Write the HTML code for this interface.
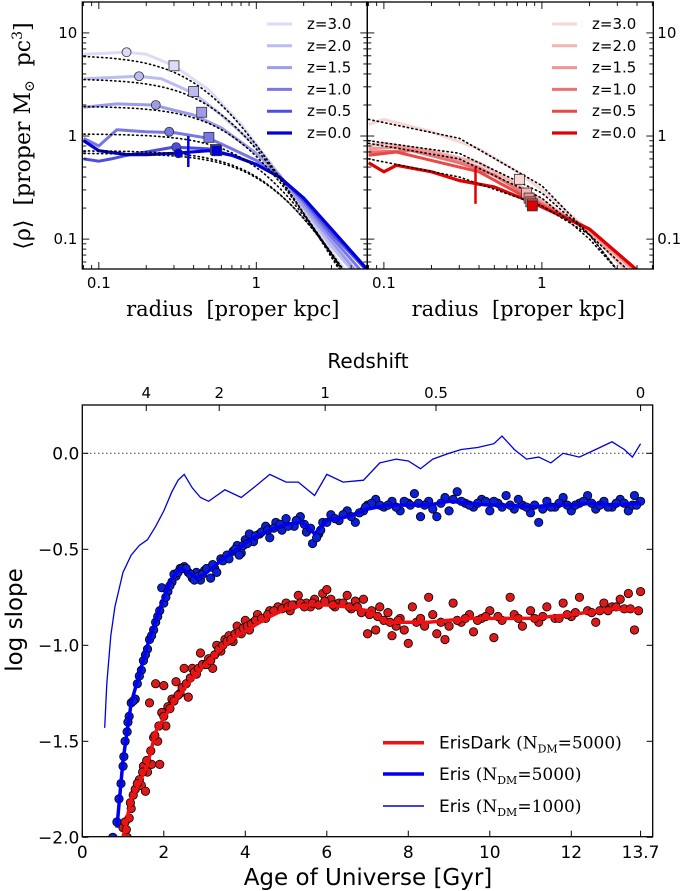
<!DOCTYPE html>
<html><head><meta charset="utf-8">
<style>
html,body{margin:0;padding:0;background:#fff;}
svg{display:block;}
text{font-family:"DejaVu Sans","Liberation Sans",sans-serif;fill:#000;}
.serif{font-family:"DejaVu Serif","Liberation Serif",serif;}
</style></head>
<body>
<svg id="fig" width="683" height="891" viewBox="0 0 683 891" xmlns="http://www.w3.org/2000/svg">
<g id="topPanels"></g>
<g id="botChart"></g>
</svg>
<script>
// ---------- TOP PANELS DATA ----------
const zLabels = ["z=3.0","z=2.0","z=1.5","z=1.0","z=0.5","z=0.0"];
const blueColors = ["#dcdcf7","#bcbcf0","#9c9ce9","#7878e4","#4d4de0","#0000dc"];
const redColors = ["#f8d6d6","#f4b4b4","#f09494","#ec7272","#e84848","#e00000"];
const erisZ3 = [[0.08,6.2],[0.15,6.5],[0.2,6.2],[0.3,4.8],[0.5,2.8],[0.8,1.3],[1.4,0.42],[2,0.19],[3,0.075],[4,0.042]];
const erisZ2 = [[0.08,3.6],[0.18,3.8],[0.25,3.6],[0.4,2.6],[0.6,1.6],[1,0.8],[1.4,0.42],[2,0.2],[3,0.085],[4.3,0.045]];
const erisZ15 = [[0.08,1.9],[0.13,2.05],[0.22,2.0],[0.4,1.6],[0.6,1.2],[1,0.68],[1.4,0.42],[2,0.21],[3,0.095],[4.5,0.045]];
const erisZ1 = [[0.08,0.95],[0.1,0.8],[0.13,1.15],[0.2,1.1],[0.3,1.08],[0.5,0.95],[0.7,0.75],[1,0.58],[1.4,0.41],[2,0.23],[3,0.105],[4.7,0.048]];
const erisZ05 = [[0.08,0.6],[0.1,0.57],[0.12,0.6],[0.15,0.65],[0.3,0.78],[0.5,0.75],[0.7,0.65],[1,0.53],[1.4,0.4],[2,0.24],[3,0.115],[5,0.05]];
const erisZ0 = [[0.08,0.9],[0.1,0.72],[0.15,0.66],[0.2,0.66],[0.3,0.68],[0.5,0.72],[0.7,0.65],[1,0.53],[1.4,0.4],[2,0.25],[3,0.125],[5,0.052]];
const erisFitRho0 = [6.1,3.6,1.95,1.05,0.72,0.68];
const erisFitRc = [0.5,0.63,0.83,1.1,1.3,1.35];
const erisCircles = [[0.15,6.5],[0.18,3.8],[0.23,2.0],[0.28,1.1],[0.31,0.78],[0.32,0.68]];
const erisSquares = [[0.3,4.8],[0.4,2.7],[0.45,1.7],[0.5,0.97],[0.55,0.74],[0.56,0.72]];
const erisBar = [0.37,0.5,1.0];
const darkZ3 = [[0.08,1.3],[0.1,1.45],[0.2,1.1],[0.4,0.75],[0.7,0.45],[1,0.3],[2,0.12],[3,0.06],[3.5,0.045]];
const darkZ2 = [[0.08,0.8],[0.1,0.85],[0.2,0.72],[0.4,0.55],[0.8,0.3],[1,0.24],[2,0.115],[3,0.062],[3.8,0.045]];
const darkZ15 = [[0.08,0.75],[0.12,0.78],[0.2,0.7],[0.4,0.5],[0.85,0.26],[2,0.12],[3.8,0.05]];
const darkZ1 = [[0.08,0.7],[0.15,0.72],[0.3,0.55],[0.5,0.42],[0.85,0.25],[2,0.125],[4,0.05]];
const darkZ05 = [[0.08,0.65],[0.12,0.7],[0.2,0.58],[0.4,0.45],[0.85,0.24],[2,0.125],[4,0.05]];
const darkZ0 = [[0.08,0.55],[0.1,0.45],[0.12,0.52],[0.2,0.45],[0.3,0.37],[0.5,0.32],[0.85,0.23],[2,0.125],[4,0.05]];
const darkFitZ3 = [[0.08,1.45],[0.3,0.95],[1,0.33],[2,0.11],[3,0.05]];
const darkFitZ2 = [[0.08,0.9],[0.3,0.68],[1,0.28],[2,0.11],[3,0.05]];
const darkFitZ1 = [[0.08,0.85],[0.3,0.6],[1,0.25],[2,0.1],[3,0.05]];
const darkFitZ0 = [[0.08,0.6],[0.3,0.4],[1,0.21],[2,0.11],[3.5,0.05]];
const darkSquares = [[0.72,0.38],[0.8,0.28],[0.83,0.25],[0.85,0.23],[0.87,0.22],[0.87,0.21]];
const darkBar = [0.38,0.22,0.5];
const yTickVals = [10,1,0.1];
const yTickLabels = ["10","1","0.1"];
const xTickVals = [0.1,1];
const xTickLabels = ["0.1","1"];

// ---------- BOTTOM CHART DATA ----------
const zTickLabels = ["4","2","1","0.5","0"];
const zTickAges = [1.57,3.36,5.96,8.68,13.7];
const ageTicks = [0,2,4,6,8,10,12,13.7];
const ageTickLabels = ["0","2","4","6","8","10","12","13.7"];
const slopeTicks = [0,-0.5,-1,-1.5,-2];
const slopeTickLabels = ["0.0","\u22120.5","\u22121.0","\u22121.5","\u22122.0"];
const eris1000 = [[0.55,-1.43],[0.6,-1.2],[0.7,-0.95],[0.8,-0.8],[1.0,-0.62],[1.2,-0.53],[1.4,-0.48],[1.6,-0.45],[1.8,-0.38],[2.0,-0.3],[2.2,-0.2],[2.35,-0.14],[2.5,-0.11],[2.7,-0.18],[2.9,-0.23],[3.1,-0.25],[3.3,-0.22],[3.5,-0.19],[3.9,-0.23],[4.2,-0.18],[4.6,-0.11],[5.0,-0.15],[5.3,-0.15],[5.7,-0.22],[6.0,-0.11],[6.4,-0.15],[6.9,-0.14],[7.3,-0.05],[7.7,-0.03],[8.0,-0.04],[8.3,-0.08],[8.6,-0.03],[9.0,0.0],[9.3,0.02],[9.7,0.03],[10.1,0.05],[10.3,0.09],[10.6,0.02],[10.9,-0.03],[11.2,-0.02],[11.5,-0.05],[11.8,0.0],[12.2,-0.02],[12.6,0.02],[13.0,0.06],[13.3,0.02],[13.5,-0.02],[13.7,0.05]];
const eris5000Line = [[0.85,-1.95],[1.0,-1.6],[1.2,-1.3],[1.4,-1.15],[1.6,-1.0],[1.8,-0.87],[2.0,-0.75],[2.2,-0.65],[2.4,-0.6],[2.6,-0.62],[2.8,-0.65],[3.0,-0.63],[3.4,-0.56],[3.8,-0.5],[4.2,-0.44],[4.6,-0.4],[5.0,-0.37],[5.4,-0.36],[5.7,-0.42],[6.0,-0.35],[6.5,-0.33],[7.0,-0.29],[7.5,-0.27],[8.0,-0.27],[8.5,-0.27],[9.0,-0.25],[9.5,-0.26],[10,-0.27],[10.5,-0.27],[11,-0.28],[11.5,-0.27],[12,-0.27],[12.5,-0.26],[13,-0.27],[13.7,-0.26]];
const darkLine = [[1.0,-2.0],[1.2,-1.8],[1.4,-1.72],[1.6,-1.62],[1.8,-1.45],[2.0,-1.38],[2.3,-1.28],[2.6,-1.2],[3.0,-1.1],[3.4,-1.02],[3.8,-0.95],[4.2,-0.9],[4.6,-0.85],[5.0,-0.81],[5.5,-0.79],[6.0,-0.79],[6.5,-0.8],[7.0,-0.82],[7.5,-0.88],[8.0,-0.88],[8.5,-0.88],[9.0,-0.87],[9.5,-0.86],[10,-0.86],[11,-0.86],[12,-0.84],[13,-0.81],[13.7,-0.82]];
const eris5000Pts = [[0.75,-2.0],[0.85,-1.92],[0.9,-1.8],[0.95,-1.72],[1.0,-1.63],[1.05,-1.5],[1.1,-1.45],[1.15,-1.37],[1.2,-1.3],[1.3,-1.28],[1.35,-1.2],[1.45,-1.13],[1.5,-1.08],[1.6,-1.02],[1.65,-0.97],[1.75,-0.92],[1.8,-0.88],[1.9,-0.82],[1.95,-0.7],[2.0,-0.78],[2.1,-0.72],[2.2,-0.67],[2.3,-0.64],[2.4,-0.6],[2.5,-0.59],[2.6,-0.62],[2.7,-0.65],[2.8,-0.62],[2.9,-0.66],[3.0,-0.61],[3.15,-0.65],[3.25,-0.6],[3.4,-0.55],[3.55,-0.53],[3.7,-0.51],[3.8,-0.48],[3.9,-0.52],[4.0,-0.45],[4.1,-0.42],[4.2,-0.46],[4.35,-0.42],[4.5,-0.38],[4.6,-0.44],[4.75,-0.36],[4.9,-0.4],[5.0,-0.34],[5.2,-0.38],[5.35,-0.33],[5.5,-0.41],[5.65,-0.47],[5.8,-0.42],[5.9,-0.36],[6.1,-0.32],[6.3,-0.35],[6.5,-0.3],[6.7,-0.36],[6.9,-0.3],[7.0,-0.27],[7.2,-0.24],[7.4,-0.28],[7.6,-0.25],[7.8,-0.3],[8.0,-0.26],[8.15,-0.21],[8.3,-0.33],[8.5,-0.25],[8.7,-0.33],[8.9,-0.23],[9.0,-0.3],[9.2,-0.2],[9.4,-0.26],[9.6,-0.28],[9.8,-0.24],[10.0,-0.3],[10.2,-0.26],[10.4,-0.22],[10.6,-0.29],[10.8,-0.27],[11.0,-0.31],[11.2,-0.36],[11.4,-0.25],[11.6,-0.28],[11.8,-0.23],[12.0,-0.3],[12.2,-0.26],[12.4,-0.22],[12.6,-0.29],[12.8,-0.25],[13.0,-0.28],[13.2,-0.24],[13.4,-0.3],[13.55,-0.22],[13.7,-0.25],[7.1,-0.26],[7.5,-0.27],[7.9,-0.25],[8.4,-0.27],[8.8,-0.26],[9.1,-0.24],[9.5,-0.27],[9.9,-0.25],[10.3,-0.28],[10.7,-0.24],[11.1,-0.27],[11.5,-0.28],[11.9,-0.27],[12.3,-0.25],[12.7,-0.27],[13.1,-0.26],[13.5,-0.27]];
const eris5000PtsExtra = [[1.02,-1.58],[1.12,-1.4],[1.25,-1.29],[1.4,-1.16],[1.55,-1.05],[1.7,-0.95],[1.85,-0.85],[2.05,-0.75],[2.15,-0.69],[2.25,-0.63],[2.35,-0.62],[2.45,-0.6],[2.55,-0.6],[2.65,-0.63],[2.75,-0.66],[2.85,-0.64],[2.95,-0.63],[3.05,-0.6],[3.2,-0.58],[3.3,-0.62],[3.45,-0.56],[3.6,-0.55],[3.75,-0.5],[3.85,-0.53],[3.95,-0.48],[4.05,-0.47],[4.25,-0.43],[4.4,-0.41],[4.55,-0.4],[4.7,-0.39],[4.85,-0.37],[5.05,-0.38],[5.25,-0.35],[5.45,-0.37],[5.6,-0.39],[5.75,-0.44],[5.85,-0.4],[6.0,-0.36],[6.2,-0.34],[6.4,-0.32],[6.6,-0.33],[6.8,-0.31],[6.95,-0.28],[7.3,-0.27],[7.7,-0.28],[8.05,-0.27],[8.25,-0.26],[8.6,-0.29],[9.3,-0.25],[9.7,-0.26],[10.1,-0.25],[10.5,-0.27],[10.9,-0.28],[11.3,-0.29],[11.7,-0.26],[12.1,-0.27],[12.5,-0.26],[12.9,-0.28],[13.3,-0.26],[13.6,-0.27]];
const darkPts = [[1.0,-1.95],[1.05,-1.92],[1.1,-2.0],[1.15,-1.9],[1.2,-1.85],[1.25,-1.78],[1.3,-1.75],[1.4,-1.7],[1.45,-1.73],[1.5,-1.63],[1.55,-1.76],[1.6,-1.66],[1.65,-1.3],[1.7,-1.62],[1.75,-1.48],[1.8,-1.2],[1.85,-1.5],[1.9,-1.62],[1.95,-1.35],[2.0,-1.21],[2.05,-1.42],[2.1,-1.32],[2.2,-1.28],[2.3,-1.19],[2.4,-1.25],[2.5,-1.12],[2.6,-1.27],[2.7,-1.12],[2.8,-1.15],[2.9,-1.04],[3.0,-1.1],[3.1,-1.07],[3.2,-1.12],[3.3,-1.0],[3.4,-1.03],[3.5,-0.97],[3.6,-0.95],[3.7,-0.98],[3.8,-0.9],[3.9,-0.94],[4.0,-0.87],[4.1,-0.92],[4.2,-0.88],[4.3,-0.84],[4.5,-0.86],[4.6,-0.82],[4.8,-0.8],[5.0,-0.78],[5.1,-0.82],[5.3,-0.74],[5.5,-0.78],[5.7,-0.76],[5.9,-0.73],[6.0,-0.71],[6.1,-0.76],[6.3,-0.78],[6.5,-0.74],[6.7,-0.77],[6.9,-0.76],[7.0,-0.94],[7.1,-0.82],[7.2,-0.92],[7.3,-0.8],[7.5,-0.83],[7.6,-0.95],[7.7,-0.9],[7.8,-0.86],[7.9,-0.92],[8.0,-0.99],[8.1,-0.8],[8.2,-0.88],[8.4,-0.9],[8.5,-0.75],[8.6,-0.84],[8.7,-0.94],[8.9,-0.97],[9.0,-0.9],[9.1,-0.78],[9.3,-0.88],[9.5,-0.84],[9.6,-0.93],[9.8,-0.86],[10.0,-0.82],[10.1,-0.96],[10.3,-0.87],[10.5,-0.75],[10.6,-0.84],[10.8,-0.9],[11.0,-0.82],[11.2,-0.88],[11.4,-0.8],[11.6,-0.86],[11.8,-0.78],[12.0,-0.85],[12.2,-0.75],[12.4,-0.82],[12.6,-0.88],[12.8,-0.78],[13.0,-0.8],[13.2,-0.76],[13.4,-0.73],[13.55,-0.92],[13.7,-0.72],[5.2,-0.79],[5.6,-0.8],[6.2,-0.8],[6.6,-0.81],[9.2,-0.87],[9.9,-0.85],[11.1,-0.86],[11.9,-0.84],[12.9,-0.82],[13.3,-0.81]];
const darkPtsExtra = [[1.08,-1.96],[1.18,-1.82],[1.35,-1.72],[1.48,-1.66],[1.58,-1.6],[1.68,-1.55],[1.78,-1.47],[1.88,-1.42],[2.0,-1.37],[2.15,-1.33],[2.25,-1.29],[2.35,-1.26],[2.45,-1.22],[2.55,-1.2],[2.65,-1.17],[2.75,-1.14],[2.85,-1.12],[2.95,-1.1],[3.05,-1.1],[3.15,-1.08],[3.25,-1.05],[3.35,-1.02],[3.45,-1.0],[3.55,-0.98],[3.65,-0.97],[3.75,-0.94],[3.85,-0.93],[3.95,-0.91],[4.05,-0.9],[4.15,-0.89],[4.25,-0.87],[4.4,-0.86],[4.55,-0.84],[4.7,-0.82],[4.9,-0.81],[5.05,-0.8],[5.15,-0.79],[5.35,-0.78],[5.45,-0.8],[5.65,-0.78],[5.8,-0.79],[5.95,-0.77],[6.15,-0.79],[6.4,-0.78],[6.55,-0.8],[6.75,-0.8],[6.85,-0.83],[7.05,-0.84],[7.25,-0.85],[7.4,-0.87],[7.55,-0.88],[7.75,-0.87],[8.3,-0.86],[8.8,-0.88],[9.4,-0.86],[9.7,-0.87],[10.2,-0.85],[10.7,-0.86],[11.3,-0.85],[11.7,-0.86],[12.1,-0.83],[12.5,-0.83],[12.7,-0.82],[13.1,-0.8],[13.45,-0.81],[13.65,-0.82]];

const NS = "http://www.w3.org/2000/svg";
function mk(parent, tag, attrs, txt){
  const e = document.createElementNS(NS, tag);
  for (const k in attrs) e.setAttribute(k, attrs[k]);
  if (txt !== undefined) e.textContent = txt;
  parent.appendChild(e);
  return e;
}
function pathFrom(pts, fx, fy){ return pts.map((p,i)=>(i?'L':'M')+fx(p[0]).toFixed(1)+' '+fy(p[1]).toFixed(1)).join(' '); }

// ---------- TOP PANELS ----------
const topG = document.getElementById('topPanels');
const TY0 = 2, TY1 = 269;
const LOGY_TOP = 1.30, LOGY_BOT = -1.29;
const LOGX_L = -1.105, LOGX_R = 0.705;
function ty(v){ return TY0 + (LOGY_TOP - Math.log10(v)) / (LOGY_TOP - LOGY_BOT) * (TY1 - TY0); }
function makeTx(x0, x1){ return r => x0 + (Math.log10(r) - LOGX_L) / (LOGX_R - LOGX_L) * (x1 - x0); }

const panels = [
  {x0:82.3, x1:367.3, name:'eris', curves:[erisZ3,erisZ2,erisZ15,erisZ1,erisZ05,erisZ0], colors:blueColors, legX:267, rightLabels:false},
  {x0:367.3, x1:653.3, name:'erisdark', curves:[darkZ3,darkZ2,darkZ15,darkZ1,darkZ05,darkZ0], colors:redColors, legX:552, rightLabels:true}
];
panels.forEach((P, pi) => {
  const tx = makeTx(P.x0, P.x1);
  const g = mk(topG, 'g', {});
  
  
  const clipId = 'clip' + pi;
  const cp = mk(mk(g,'defs',{}), 'clipPath', {id:clipId});
  mk(cp, 'rect', {x:P.x0, y:TY0, width:P.x1-P.x0, height:TY1-TY0});
  const plot = mk(g, 'g', {'clip-path':'url(#'+clipId+')'});
  P.curves.forEach((c, i) => {
    const l = mk(plot, 'path', {d:pathFrom(c, tx, ty), fill:'none', stroke:P.colors[i], 'stroke-width': i===5?3.2:3, 'stroke-linejoin':'round'});
    
    
  });
  if (pi === 0){
    erisFitRho0.forEach((r0, i) => {
      const pts = [];
      for (let lr = -1.15; lr <= 0.75; lr += 0.05){ const r = Math.pow(10, lr); pts.push([r, r0 / Math.pow(1 + (r/erisFitRc[i])*(r/erisFitRc[i]), 1.25)]); }
      const f = mk(plot, 'path', {d:pathFrom(pts, tx, ty), fill:'none', stroke:'#000', 'stroke-width':1.6, 'stroke-dasharray':'1.2 3.2', 'stroke-linecap':'round'});
      
      
    });
  } else {
    [darkFitZ3, darkFitZ2, darkFitZ1, darkFitZ0].forEach((pts, i) => {
      const f = mk(plot, 'path', {d:pathFrom(pts, tx, ty), fill:'none', stroke:'#000', 'stroke-width':1.6, 'stroke-dasharray':'1.2 3.2', 'stroke-linecap':'round'});
      
      
    });
  }
  if (pi === 0){
    erisCircles.forEach((p, i) => {
      const m = mk(plot, 'circle', {cx:tx(p[0]), cy:ty(p[1]), r:4.5, fill:P.colors[i], stroke:'#333', 'stroke-width':0.8});
      
      
    });
    erisSquares.forEach((p, i) => {
      const m = mk(plot, 'rect', {x:tx(p[0])-5, y:ty(p[1])-5, width:10, height:10, fill:P.colors[i], stroke:'#333', 'stroke-width':0.8});
      
      
    });
    const b = mk(plot, 'line', {x1:tx(erisBar[0]), x2:tx(erisBar[0]), y1:ty(erisBar[1]), y2:ty(erisBar[2]), stroke:'#0000dc', 'stroke-width':2.5});
    
    
  } else {
    darkSquares.forEach((p, i) => {
      const m = mk(plot, 'rect', {x:tx(p[0])-5, y:ty(p[1])-5, width:10, height:10, fill:P.colors[i], stroke:'#333', 'stroke-width':0.8});
      
      
    });
    const b = mk(plot, 'line', {x1:tx(darkBar[0]), x2:tx(darkBar[0]), y1:ty(darkBar[1]), y2:ty(darkBar[2]), stroke:'#e00000', 'stroke-width':2.5});
    
    
  }
  const fr = mk(g, 'rect', {x:P.x0, y:TY0, width:P.x1-P.x0, height:TY1-TY0, fill:'none', stroke:'#000', 'stroke-width':1.3});
  
  
  for (let d = -2; d <= 1; d++){
    for (let m = 1; m <= 9; m++){
      const v = m * Math.pow(10, d);
      const yy = ty(v);
      if (yy < TY0 || yy > TY1) continue;
      const len = m === 1 ? 7 : 4;
      mk(g, 'line', {x1:P.x0, x2:P.x0+len, y1:yy, y2:yy, stroke:'#000', 'stroke-width':0.9});
      mk(g, 'line', {x1:P.x1, x2:P.x1-len, y1:yy, y2:yy, stroke:'#000', 'stroke-width':0.9});
    }
  }
  for (let d = -2; d <= 0; d++){
    for (let m = 1; m <= 9; m++){
      const v = m * Math.pow(10, d);
      const xx = tx(v);
      if (xx < P.x0 || xx > P.x1) continue;
      const len = m === 1 ? 7 : 4;
      mk(g, 'line', {x1:xx, x2:xx, y1:TY1, y2:TY1-len, stroke:'#000', 'stroke-width':0.9});
      mk(g, 'line', {x1:xx, x2:xx, y1:TY0, y2:TY0+len, stroke:'#000', 'stroke-width':0.9});
    }
  }
  yTickVals.forEach((v, i) => {
    const t = P.rightLabels
      ? mk(g, 'text', {x:P.x1+4, y:ty(v)+5, 'font-size':15}, yTickLabels[i])
      : mk(g, 'text', {x:P.x0-5, y:ty(v)+5, 'font-size':15, 'text-anchor':'end'}, yTickLabels[i]);
    
    
  });
  xTickVals.forEach((v, i) => {
    const t = mk(g, 'text', {x:tx(v), y:288, 'font-size':15, 'text-anchor':'middle'}, xTickLabels[i]);
    
    
  });
  const xt = mk(g, 'text', {x:(P.x0+P.x1)/2 + 8, y:316, 'font-size':21, 'text-anchor':'middle', class:'serif', style:'white-space:pre'}, 'radius  [proper kpc]');
  
  
  const lg = mk(g, 'g', {});
  
  
  zLabels.forEach((lab, i) => {
    const yy = 24 + i * 21.8;
    const ln = mk(lg, 'line', {x1:P.legX, x2:P.legX+25, y1:yy, y2:yy, stroke:P.colors[i], 'stroke-width':i===5?3.2:3});
    
    
    const t = mk(lg, 'text', {x:P.legX+40, y:yy+5, 'font-size':15}, lab);
    
    
  });
});
const yl = mk(topG, 'text', {transform:'translate(30,136) rotate(-90)', 'font-size':22, 'text-anchor':'middle', class:'serif', style:'white-space:pre'});


mk(yl, 'tspan', {}, '\u27E8\u03C1\u27E9  [proper M');
mk(yl, 'tspan', {'font-size':14, dy:4}, '\u2299');
mk(yl, 'tspan', {dy:-4}, '  pc');
mk(yl, 'tspan', {'font-size':14, dy:-8}, '3');
mk(yl, 'tspan', {dy:8}, ']');

// ---------- BOTTOM CHART ----------
const botG = document.getElementById('botChart');
const BX0 = 82.3, BX1 = 652.7, BY0 = 405, BY1 = 836.7;
const AGE_PX = 40.75, Y_ZERO = 453.3, Y_UNIT = 192;
function bx(t){ return BX0 + t * AGE_PX; }
function by(v){ return Y_ZERO - v * Y_UNIT; }
const bcp = mk(mk(botG,'defs',{}), 'clipPath', {id:'clipB'});
mk(bcp, 'rect', {x:BX0, y:BY0, width:BX1-BX0, height:BY1-BY0});
const bplot = mk(botG, 'g', {'clip-path':'url(#clipB)'});
const zl = mk(bplot, 'line', {x1:BX0, x2:BX1, y1:by(0), y2:by(0), stroke:'#000', 'stroke-width':1.2, 'stroke-dasharray':'1 3'});


const thin = mk(bplot, 'path', {d:pathFrom(eris1000, bx, by), fill:'none', stroke:'#0000dd', 'stroke-width':1.3});


const gB = mk(bplot, 'g', {});


eris5000Pts.concat(eris5000PtsExtra).forEach(p => {
  const c = mk(gB, 'circle', {cx:bx(p[0]), cy:by(p[1]), r:4.2, fill:'#0a1fd8', stroke:'#000', 'stroke-width':0.8});
  
  
});
const bl = mk(bplot, 'path', {d:pathFrom(eris5000Line, bx, by), fill:'none', stroke:'#0000ee', 'stroke-width':3.5, 'stroke-linejoin':'round'});


const gR = mk(bplot, 'g', {});


darkPts.concat(darkPtsExtra).forEach(p => {
  const c = mk(gR, 'circle', {cx:bx(p[0]), cy:by(p[1]), r:4.2, fill:'#dd1a1a', stroke:'#000', 'stroke-width':0.8});
  
  
});
const rl = mk(bplot, 'path', {d:pathFrom(darkLine, bx, by), fill:'none', stroke:'#ee1111', 'stroke-width':3.5, 'stroke-linejoin':'round'});


const bfr = mk(botG, 'rect', {x:BX0, y:BY0, width:BX1-BX0, height:BY1-BY0, fill:'none', stroke:'#000', 'stroke-width':1.3});


ageTicks.forEach((t, i) => {
  mk(botG, 'line', {x1:bx(t), x2:bx(t), y1:BY1, y2:BY1-6, stroke:'#000', 'stroke-width':1});
  const tl = mk(botG, 'text', {x:bx(t), y:858, 'font-size':17, 'text-anchor':'middle'}, ageTickLabels[i]);
  
  
});
slopeTicks.forEach((v, i) => {
  mk(botG, 'line', {x1:BX0, x2:BX0+6, y1:by(v), y2:by(v), stroke:'#000', 'stroke-width':1});
  mk(botG, 'line', {x1:BX1, x2:BX1-6, y1:by(v), y2:by(v), stroke:'#000', 'stroke-width':1});
  const tl = mk(botG, 'text', {x:BX0-3, y:by(v)+6, 'font-size':17, 'text-anchor':'end'}, slopeTickLabels[i]);
  
  
});
zTickAges.forEach((t, i) => {
  mk(botG, 'line', {x1:bx(t), x2:bx(t), y1:BY0, y2:BY0+6, stroke:'#000', 'stroke-width':1});
  const tl = mk(botG, 'text', {x:bx(t), y:398, 'font-size':15, 'text-anchor':'middle'}, zTickLabels[i]);
  
  
});
const rt = mk(botG, 'text', {x:368, y:368, 'font-size':20, 'text-anchor':'middle'}, 'Redshift');


const xt2 = mk(botG, 'text', {x:368, y:885, 'font-size':23, 'text-anchor':'middle'}, 'Age of Universe [Gyr]');


const yt2 = mk(botG, 'text', {transform:'translate(22,620) rotate(-90)', 'font-size':23, 'text-anchor':'middle'}, 'log slope');


const blg = mk(botG, 'g', {});


const legNames = ['ErisDark', 'Eris', 'Eris'];
const legN = ['5000', '5000', '1000'];
const legCol = ['#ee1111', '#0000ee', '#0000dd'];
const legW = [3.5, 3.5, 1.5];
const legY = [742.7, 774, 806];
legNames.forEach((nm, i) => {
  const ln = mk(blg, 'line', {x1:383, x2:424, y1:legY[i], y2:legY[i], stroke:legCol[i], 'stroke-width':legW[i]});
  
  
  const t = mk(blg, 'text', {x:439, y:legY[i]+6, 'font-size':17, style:'white-space:pre'});
  
  
  mk(t, 'tspan', {}, nm + ' ');
  mk(t, 'tspan', {class:'serif'}, '(N');
  mk(t, 'tspan', {class:'serif', 'font-size':11, dy:4}, 'DM');
  mk(t, 'tspan', {class:'serif', dy:-4}, '=' + legN[i] + ')');
});
</script>
</body></html>
